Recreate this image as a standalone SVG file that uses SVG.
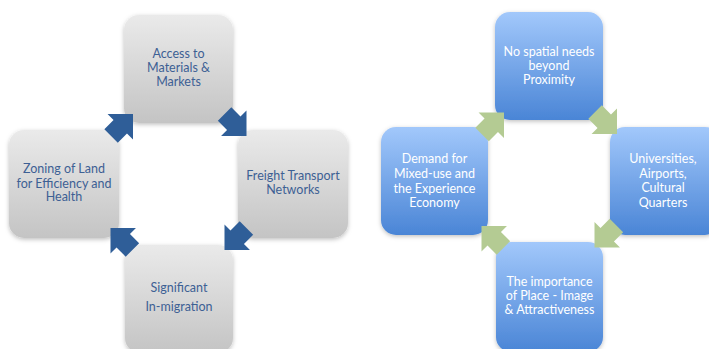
<svg xmlns="http://www.w3.org/2000/svg" width="709" height="349" viewBox="0 0 709 349">
<style>
.t{font-family:Lato,"Open Sans","Liberation Sans",sans-serif;font-size:12.5px;text-anchor:middle}
.g{fill:#3d6094}
.w{fill:#ffffff}
.gb{fill:url(#gray)}
.bb{fill:url(#blue)}
.ab{fill:#2f5e98}
.ag{fill:#b4cb93}
</style>
<defs>
<linearGradient id="gray" x1="0" y1="0" x2="0" y2="1">
<stop offset="0" stop-color="#eaeaea"/>
<stop offset="1" stop-color="#c4c4c4"/>
</linearGradient>
<linearGradient id="blue" x1="0" y1="0" x2="0" y2="1">
<stop offset="0" stop-color="#a2c8fb"/>
<stop offset="1" stop-color="#4a85d6"/>
</linearGradient>
<filter id="sh" x="-20%" y="-20%" width="140%" height="140%">
<feDropShadow dx="0" dy="1.5" stdDeviation="2" flood-color="#000" flood-opacity="0.25"/>
</filter>
<path id="arr" d="M0 0 L-18 -18 L-18 -9.5 L-31 -9.5 L-31 9.5 L-18 9.5 L-18 18 Z"/>
</defs>
<rect width="709" height="349" fill="#ffffff"/>

<g id="n-access">
<rect x="124" y="15" width="109" height="108" rx="15" class="gb" filter="url(#sh)"/>
<text class="t g" x="178.5" y="57.5">Access to</text>
<text class="t g" x="178.5" y="72">Materials &amp;</text>
<text class="t g" x="178.5" y="86">Markets</text>
</g>
<g id="n-freight">
<rect x="238" y="130" width="110" height="108" rx="15" class="gb" filter="url(#sh)"/>
<text class="t g" x="293" y="180">Freight Transport</text>
<text class="t g" x="293" y="194">Networks</text>
</g>
<g id="n-migration">
<rect x="125" y="245" width="108" height="108" rx="15" class="gb" filter="url(#sh)"/>
<text class="t g" x="179" y="292">Significant</text>
<text class="t g" x="179" y="311">In-migration</text>
</g>
<g id="n-zoning">
<rect x="9" y="130" width="110" height="108" rx="15" class="gb" filter="url(#sh)"/>
<text class="t g" x="64" y="173">Zoning of Land</text>
<text class="t g" x="64" y="187.5">for Efficiency and</text>
<text class="t g" x="64" y="201">Health</text>
</g>

<g id="n-spatial">
<rect x="495" y="12" width="108" height="108" rx="15" class="bb" filter="url(#sh)"/>
<text class="t w" x="549" y="56">No spatial needs</text>
<text class="t w" x="549" y="70">beyond</text>
<text class="t w" x="549" y="84">Proximity</text>
</g>
<g id="n-universities">
<rect x="610" y="127" width="110" height="108" rx="15" class="bb" filter="url(#sh)"/>
<text class="t w" x="663" y="163">Universities,</text>
<text class="t w" x="663" y="178">Airports,</text>
<text class="t w" x="663" y="192">Cultural</text>
<text class="t w" x="663" y="207">Quarters</text>
</g>
<g id="n-place">
<rect x="496" y="242" width="107" height="110" rx="15" class="bb" filter="url(#sh)"/>
<text class="t w" x="549.5" y="286">The importance</text>
<text class="t w" x="549.5" y="300">of Place - Image</text>
<text class="t w" x="549.5" y="314">&amp; Attractiveness</text>
</g>
<g id="n-demand">
<rect x="381" y="127" width="107" height="108" rx="15" class="bb" filter="url(#sh)"/>
<text class="t w" x="434.5" y="163">Demand for</text>
<text class="t w" x="434.5" y="178">Mixed-use and</text>
<text class="t w" x="434.5" y="193">the Experience</text>
<text class="t w" x="434.5" y="207">Economy</text>
</g>

<g id="connectors">
<use href="#arr" class="ab" transform="translate(133 114) rotate(-45)"/>
<use href="#arr" class="ab" transform="translate(246.5 136) rotate(45)"/>
<use href="#arr" class="ab" transform="translate(224.5 250) rotate(135)"/>
<use href="#arr" class="ab" transform="translate(110.5 228) rotate(-135)"/>
<use href="#arr" class="ag" transform="translate(504 112.5) rotate(-45)"/>
<use href="#arr" class="ag" transform="translate(617 134) rotate(45)"/>
<use href="#arr" class="ag" transform="translate(594.5 247.5) rotate(135)"/>
<use href="#arr" class="ag" transform="translate(481.5 226) rotate(-135)"/>
</g>
</svg>
